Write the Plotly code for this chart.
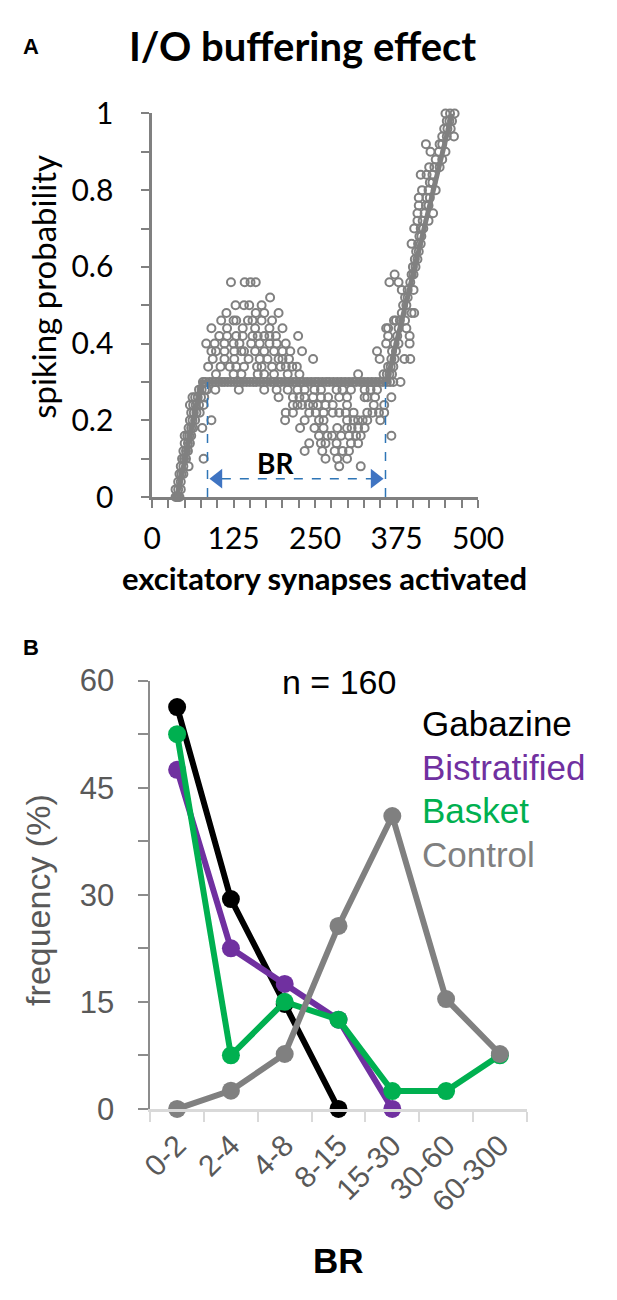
import plotly.graph_objects as go
from plotly.subplots import make_subplots

# ---- Panel A: I/O curve (spiking probability vs synapses) ----
io_levels = [0.00, 0.02, 0.04, 0.06, 0.08, 0.10, 0.12, 0.14, 0.16, 0.18,
             0.20, 0.22, 0.24, 0.26, 0.28, 0.30, 0.32, 0.34, 0.36, 0.38,
             0.40, 0.42, 0.44, 0.46, 0.48, 0.50, 0.52, 0.54, 0.56, 0.58,
             0.60, 0.62, 0.64, 0.66, 0.68, 0.70, 0.72, 0.74, 0.76, 0.78,
             0.80, 0.82, 0.84, 0.86, 0.88, 0.90, 0.92, 0.94, 0.96, 0.98, 1.00]
io_x_by_level = [
    [36, 38, 40, 42],
    [36, 40, 44],
    [40, 44],
    [42, 45, 48],
    [44, 48, 56, 287, 320],
    [46, 49, 52, 79, 266, 284, 299],
    [48, 52, 55, 234, 261, 280, 292, 302],
    [50, 55, 58, 241, 259, 266, 283, 305, 316],
    [50, 54, 57, 60, 256, 269, 276, 290, 302, 313, 320, 367],
    [56, 60, 63, 77, 227, 249, 263, 284, 299, 306, 316, 326],
    [58, 62, 66, 91, 204, 234, 256, 263, 299, 309, 316, 323, 330, 350],
    [60, 64, 68, 73, 205, 216, 241, 251, 263, 277, 287, 297, 309, 330, 338, 348, 356],
    [58, 63, 67, 72, 79, 216, 223, 230, 240, 247, 254, 266, 277, 299, 340, 356],
    [62, 66, 70, 75, 80, 194, 216, 226, 234, 247, 259, 270, 287, 299, 326, 330, 342, 367],
    [72, 76, 81, 84, 97, 133, 172, 191, 208, 223, 234, 249, 259, 283, 292, 305, 326, 335, 345],
    [78, 82, 88, 93, 97, 102, 107, 111, 116, 121, 126, 131, 135, 140, 145, 150, 155, 160,
     166, 171, 176, 182, 187, 193, 198, 204, 210, 216, 221, 227, 232, 238, 244, 250, 255,
     261, 267, 272, 278, 284, 290, 296, 302, 308, 313, 319, 325, 331, 337, 343, 349, 354,
     360, 365, 370, 381],
    [98, 125, 137, 162, 172, 187, 208, 226, 316, 355, 360, 364, 368],
    [86, 105, 119, 129, 141, 161, 168, 184, 197, 205, 215, 222, 362, 366, 370],
    [93, 111, 126, 148, 165, 177, 194, 200, 210, 247, 349, 367, 372, 387, 396],
    [91, 98, 111, 126, 137, 141, 158, 172, 187, 200, 212, 230, 345, 368, 374],
    [83, 96, 111, 125, 134, 152, 165, 180, 191, 205, 359, 372, 378, 395],
    [103, 115, 129, 139, 154, 162, 172, 180, 190, 224, 362, 376, 395],
    [91, 115, 139, 158, 180, 200, 359, 362, 378, 390],
    [106, 125, 129, 147, 154, 168, 184, 371, 374, 380, 388],
    [114, 159, 172, 194, 383, 398, 402],
    [128, 141, 149, 168, 385, 390],
    [181, 388, 392],
    [383, 392, 401],
    [121, 142, 151, 159, 364, 378, 396],
    [372, 398, 401],
    [400, 404],
    [403, 407],
    [405, 409],
    [398, 408, 412],
    [410, 413],
    [402, 412, 416],
    [407, 415, 424],
    [407, 418, 431],
    [409, 420, 424],
    [409, 421, 426],
    [414, 424, 435],
    [426, 430],
    [412, 421, 430],
    [425, 433, 441],
    [435, 445],
    [427, 440, 450],
    [420, 441, 445],
    [445, 452, 463],
    [448, 453, 458],
    [452, 456, 460],
    [450, 457, 464],
]

# piecewise fit drawn through the cloud
fit_x = [38, 76, 360, 460]
fit_y = [0.0, 0.3, 0.3, 1.0]

# buffering range guides
BR_LEFT = 85
BR_RIGHT = 358
BR_LEVEL = 0.3
BR_ARROW_Y = 0.048

# ---- Panel B: BR distribution ----
br_bins = ['0-2', '2-4', '4-8', '8-15', '15-30', '30-60', '60-300']
gabazine = [56.3, 29.4, 14.7, 0]
bistratified = [47.5, 22.5, 17.5, 12.5, 0]
basket = [52.5, 7.5, 15, 12.5, 2.5, 2.5, 7.5]
control = [0, 2.56, 7.69, 25.64, 41.03, 15.38, 7.69]

COL_GABA = '#000000'
COL_BIST = '#7030A0'
COL_BASK = '#00B050'
COL_CTRL = '#808080'

# figure kept inside the window (page body has an 8px margin)
OFF = 8
W, H = 601, 1284
FONT_A = 'Lato'
FONT_B = 'Liberation Sans, Arial'


def px_x(p):
    return (p - OFF) / W


def px_y(p):
    return 1 - (p - OFF) / H


io_x = []
io_y = []
for lvl, xs in zip(io_levels, io_x_by_level):
    io_x.extend(xs)
    io_y.extend([lvl] * len(xs))

fig = make_subplots(rows=2, cols=1)

# panel A traces
fig.add_trace(go.Scatter(x=io_x, y=io_y, mode='markers', cliponaxis=False,
                         marker=dict(symbol='circle-open', size=8, color='#808080',
                                     line=dict(width=2))),
              row=1, col=1)
fig.add_trace(go.Scatter(x=fit_x, y=fit_y, mode='lines', cliponaxis=False,
                         line=dict(color='#808080', width=5)),
              row=1, col=1)
fig.add_trace(go.Scatter(x=[BR_LEFT + 16, BR_RIGHT - 16], y=[BR_ARROW_Y, BR_ARROW_Y],
                         mode='markers', hoverinfo='skip',
                         marker=dict(symbol=['triangle-left', 'triangle-right'],
                                     size=17, color='#3F74C2')),
              row=1, col=1)

# panel B traces (bottom to top: gabazine, bistratified, basket, control)
for vals, col in [(gabazine, COL_GABA), (bistratified, COL_BIST),
                  (basket, COL_BASK), (control, COL_CTRL)]:
    fig.add_trace(go.Scatter(x=br_bins[:len(vals)], y=vals, mode='lines+markers',
                             cliponaxis=False,
                             line=dict(color=col, width=6),
                             marker=dict(color=col, size=18)),
                  row=2, col=1)

# dashed BR guides
for xv in [BR_LEFT, BR_RIGHT]:
    fig.add_shape(type='line', xref='x', yref='y', x0=xv, x1=xv, y0=0, y1=BR_LEVEL,
                  line=dict(color='#2E75B6', width=1.5, dash='dash'))
fig.add_shape(type='line', xref='x', yref='y', x0=BR_LEFT + 22, x1=BR_RIGHT - 22,
              y0=BR_ARROW_Y, y1=BR_ARROW_Y,
              line=dict(color='#2E75B6', width=1.5, dash='dash'))

axis_a = dict(showgrid=False, zeroline=False, showline=True, linecolor='#808080',
              linewidth=2.5, ticks='outside', ticklen=8, tickwidth=2, tickcolor='#808080',
              tickfont=dict(family=FONT_A, size=30, color='#000000'))
fig.update_xaxes(axis_a, row=1, col=1)
fig.update_yaxes(axis_a, row=1, col=1)
fig.update_xaxes(domain=[px_x(149), px_x(497)], range=[0, 500], tick0=0, dtick=125,
                 ticklabelstandoff=5,
                 minor=dict(dtick=25, ticks='outside', ticklen=8, tickwidth=2,
                            tickcolor='#808080'),
                 row=1, col=1)
fig.update_yaxes(domain=[px_y(492), px_y(97)], range=[0, 1], tick0=0, dtick=0.2,
                 ticklabelstandoff=22,
                 minor=dict(dtick=0.1, ticks='outside', ticklen=8, tickwidth=2,
                            tickcolor='#808080'),
                 row=1, col=1)

fig.update_xaxes(domain=[px_x(147), px_x(549)], range=[-0.5, 6.5], type='category',
                 showgrid=False, zeroline=False, showline=True, linecolor='#D9D9D9',
                 linewidth=3, ticks='outside', ticklen=10, tickwidth=2,
                 tickcolor='#D9D9D9', tickson='boundaries', tickangle=-45,
                 ticklabelstandoff=4,
                 tickfont=dict(family=FONT_B, size=30, color='#595959'),
                 row=2, col=1)
fig.update_yaxes(domain=[px_y(1122), px_y(681)], range=[0, 60], tick0=0, dtick=15,
                 showgrid=False, zeroline=False, showline=True, linecolor='#8C8C8C',
                 linewidth=1.5, ticks='outside', ticklen=10, tickwidth=1.5,
                 tickcolor='#8C8C8C', ticklabelstandoff=18,
                 minor=dict(dtick=7.5, ticks='outside', ticklen=10, tickwidth=1.5,
                            tickcolor='#8C8C8C'),
                 tickfont=dict(family=FONT_B, size=31, color='#595959'),
                 row=2, col=1)

ann = []


def label(text, x, y, size, family, color='#000000', bold=False, angle=0,
          xanchor='center'):
    t = '<b>' + text + '</b>' if bold else text
    ann.append(dict(text=t, x=px_x(x), y=px_y(y), xref='paper', yref='paper',
                    showarrow=False, xanchor=xanchor, yanchor='middle', textangle=angle,
                    font=dict(family=family, size=size, color=color)))


label('A', 20, 28, 22, FONT_B, bold=True)
label('I/O buffering effect', 310, 28, 40, FONT_A, bold=True)
label('spiking probability', 33, 275, 33, FONT_A, angle=-90)
label('excitatory synapses activated', 333, 575, 31, FONT_A, bold=True)
label('B', 20, 647, 22, FONT_B, bold=True)
label('n = 160', 348, 682, 34, FONT_B)
label('frequency (%)', 27, 907, 34, FONT_B, color='#595959', angle=-90)
label('BR', 348, 1278, 35, FONT_B, bold=True)
legend_rows = [('Gabazine', COL_GABA, 725), ('Bistratified', COL_BIST, 770),
               ('Basket', COL_BASK, 815), ('Control', COL_CTRL, 860)]
for name, col, yy in legend_rows:
    label(name, 435, yy, 35, FONT_B, color=col, xanchor='left')

# BR label inside panel A (data coordinates)
ann.append(dict(text='<b>BR</b>', x=190, y=0.089, xref='x', yref='y', showarrow=False,
                font=dict(family=FONT_A, size=28, color='#000000')))

fig.update_layout(width=W, height=H, margin=dict(l=0, r=0, t=0, b=0),
                  paper_bgcolor='white', plot_bgcolor='white', showlegend=False,
                  annotations=ann)

fig.write_html("out.html")
